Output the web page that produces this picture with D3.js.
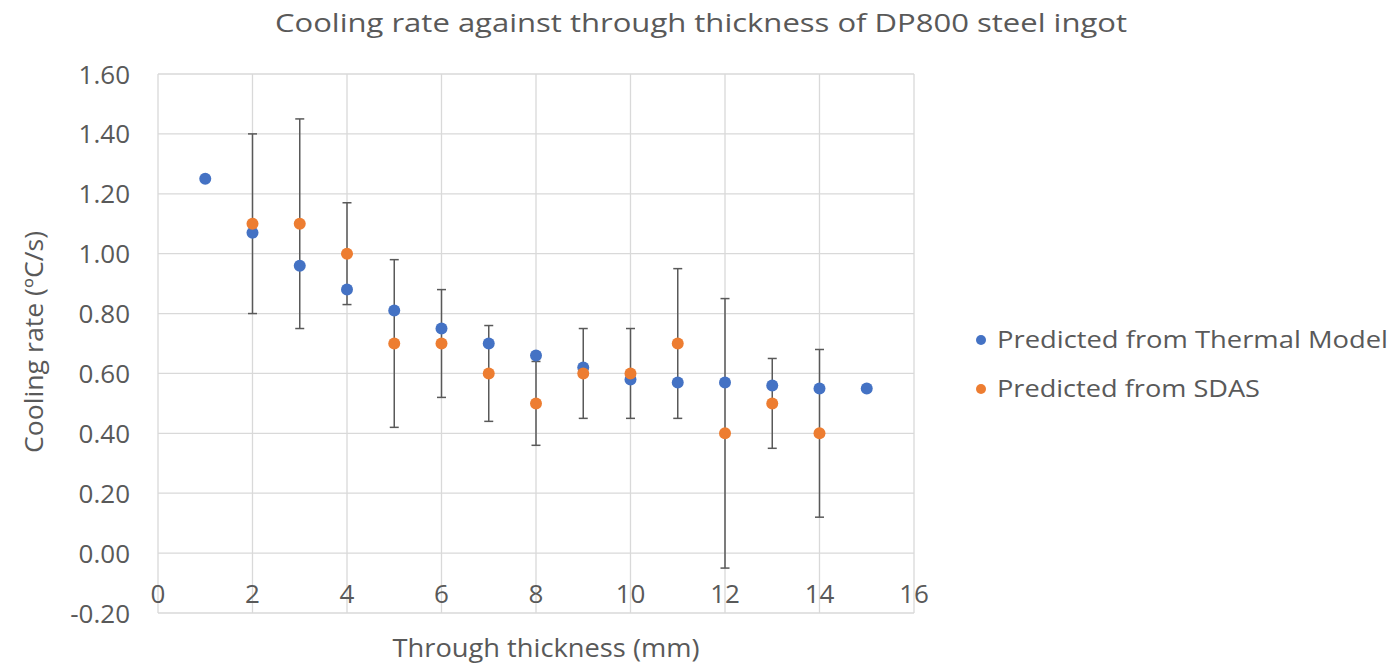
<!DOCTYPE html>
<html>
<head>
<meta charset="utf-8">
<script src="https://cdn.jsdelivr.net/npm/d3@7"></script>
<style>
  body { margin: 0; background: #fff; }
  svg text { font-family: "Open Sans", "Noto Sans", sans-serif; fill: #595959; }
</style>
</head>
<body>
<svg id="chart" width="1396" height="668"></svg>
<script>
"use strict"

// thickness positions (mm)
const thermalX = [1, 2, 3, 4, 5, 6, 7, 8, 9, 10, 11, 12, 13, 14, 15]
const thermalY = [1.25, 1.07, 0.96, 0.88, 0.81, 0.75, 0.70, 0.66, 0.62, 0.58, 0.57, 0.57, 0.56, 0.55, 0.55]

const sdasX = [2, 3, 4, 5, 6, 7, 8, 9, 10, 11, 12, 13, 14]
const sdasY = [1.10, 1.10, 1.00, 0.70, 0.70, 0.60, 0.50, 0.60, 0.60, 0.70, 0.40, 0.50, 0.40]
const sdasErr = [0.30, 0.35, 0.17, 0.28, 0.18, 0.16, 0.14, 0.15, 0.15, 0.25, 0.45, 0.15, 0.28]

const xTicks = [0, 2, 4, 6, 8, 10, 12, 14, 16]
const yTicks = [-0.2, 0, 0.2, 0.4, 0.6, 0.8, 1.0, 1.2, 1.4, 1.6]

const seriesNames = ["Predicted from Thermal Model", "Predicted from SDAS"]
const colors = ["#4472C4", "#ED7D31"]

const margin = { top: 74, right: 482, bottom: 55, left: 158 }
const W = 1396, H = 668
const svg = d3.select("#chart")

const x = d3.scaleLinear().domain([0, 16]).range([margin.left, W - margin.right])
const y = d3.scaleLinear().domain([-0.2, 1.6]).range([H - margin.bottom, margin.top])

// excel prints a plain hyphen for negatives
const fmt = d => d3.format(".2f")(d).replace("\u2212", "-")

// gridlines
svg.append("g").selectAll("line")
    .data(xTicks)
  .enter().append("line")
    .attr("x1", d => x(d)).attr("x2", d => x(d))
    .attr("y1", y(1.6)).attr("y2", y(-0.2))
    .attr("stroke", "#D9D9D9").attr("stroke-width", 1.3)

svg.append("g").selectAll("line")
    .data(yTicks)
  .enter().append("line")
    .attr("x1", x(0)).attr("x2", x(16))
    .attr("y1", d => y(d)).attr("y2", d => y(d))
    .attr("stroke", "#D9D9D9").attr("stroke-width", 1.3)

// y tick labels
svg.append("g").selectAll("text")
    .data(yTicks)
  .enter().append("text")
    .attr("x", 130).attr("y", d => y(d) + 9.5)
    .attr("text-anchor", "end")
    .style("font-size", "26px")
    .text(fmt)

// x tick labels, sit just under the zero line like excel does
svg.append("g").selectAll("text")
    .data(xTicks)
  .enter().append("text")
    .attr("x", d => x(d)).attr("y", 603)
    .attr("text-anchor", "middle")
    .style("font-size", "26px")
    .text(d => d)

// error bars for SDAS
const cap = 4.5
const errG = svg.append("g")
    .attr("stroke", "#595959").attr("stroke-width", 1.5)
sdasX.forEach((xv, i) => {
    const top = y(sdasY[i] + sdasErr[i]), bot = y(sdasY[i] - sdasErr[i])
    errG.append("line").attr("x1", x(xv)).attr("x2", x(xv)).attr("y1", top).attr("y2", bot)
    errG.append("line").attr("x1", x(xv) - cap).attr("x2", x(xv) + cap).attr("y1", top).attr("y2", top)
    errG.append("line").attr("x1", x(xv) - cap).attr("x2", x(xv) + cap).attr("y1", bot).attr("y2", bot)
})

// points
svg.append("g").selectAll("circle")
    .data(thermalX.map((d, i) => [d, thermalY[i]]))
  .enter().append("circle")
    .attr("cx", d => x(d[0])).attr("cy", d => y(d[1]))
    .attr("r", 6).attr("fill", colors[0])

svg.append("g").selectAll("circle")
    .data(sdasX.map((d, i) => [d, sdasY[i]]))
  .enter().append("circle")
    .attr("cx", d => x(d[0])).attr("cy", d => y(d[1]))
    .attr("r", 6).attr("fill", colors[1])

// titles - the original font runs wider than Open Sans so stretch to fit
svg.append("text")
    .attr("x", 701).attr("y", 32)
    .attr("text-anchor", "middle")
    .attr("textLength", 852).attr("lengthAdjust", "spacingAndGlyphs")
    .style("font-size", "25px")
    .text("Cooling rate against through thickness of DP800 steel ingot")

svg.append("text")
    .attr("x", 546).attr("y", 657)
    .attr("text-anchor", "middle")
    .attr("textLength", 307).attr("lengthAdjust", "spacingAndGlyphs")
    .style("font-size", "26px")
    .text("Through thickness (mm)")

svg.append("text")
    .attr("transform", "translate(43,342) rotate(-90)")
    .attr("text-anchor", "middle")
    .attr("textLength", 222).attr("lengthAdjust", "spacingAndGlyphs")
    .style("font-size", "25px")
    .text("Cooling rate (ºC/s)")

// legend
const legendWidths = [391, 263]
const legend = svg.append("g").selectAll("g")
    .data(seriesNames)
  .enter().append("g")
    .attr("transform", (d, i) => "translate(981," + (340 + i * 49) + ")")
legend.append("circle").attr("r", 5).attr("fill", (d, i) => colors[i])
legend.append("text")
    .attr("x", 16).attr("y", 8)
    .attr("textLength", (d, i) => legendWidths[i]).attr("lengthAdjust", "spacingAndGlyphs")
    .style("font-size", "23px")
    .text(d => d)
</script>
</body>
</html>
